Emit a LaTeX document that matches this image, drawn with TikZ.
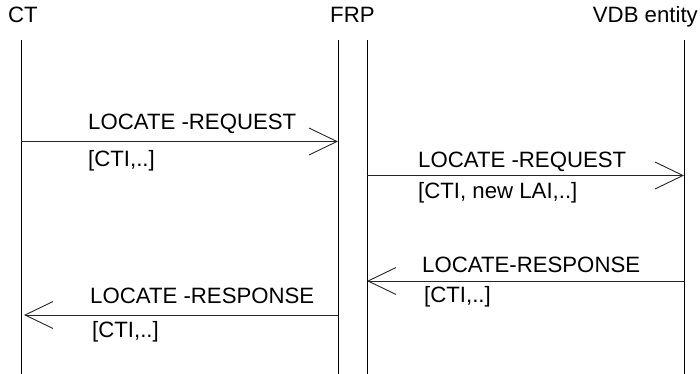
\documentclass[tikz,border=0pt]{standalone}
\usepackage{fontspec}
\setmainfont{Liberation Sans}
\usetikzlibrary{arrows.meta}
\tikzset{
  lifeline/.style={line width=1pt, black},
  msg/.style={line width=0.9pt, black!85, -{Straight Barb[length=28pt,width=27pt,line width=0.9pt]}},
  lbl/.style={anchor=base west, inner sep=0pt, font=\fontsize{22.2}{26}\selectfont},
  head/.style={lbl}
}
\begin{document}
\begin{tikzpicture}[x=1pt,y=-1pt]
\useasboundingbox (0,0) rectangle (700,374);

% entity names
\node[head] (ct)  at (8,23)   {CT};
\node[head] (frp) at (330,23) {FRP};
\node[head, anchor=base east] (vdb) at (698,23) {VDB entity};

% lifelines
\coordinate (ctT)  at (21,40);   \coordinate (ctB)  at (21,374);
\coordinate (frlT) at (338,40);  \coordinate (frlB) at (338,374);
\coordinate (frrT) at (367,40);  \coordinate (frrB) at (367,374);
\coordinate (vdT)  at (684,40);  \coordinate (vdB)  at (684,374);
\draw[lifeline] (ctT) -- (ctB);
\draw[lifeline] (frlT) -- (frlB);
\draw[lifeline] (frrT) -- (frrB);
\draw[lifeline] (vdT) -- (vdB);

% message end points
\coordinate (m1a) at (21,141.5);  \coordinate (m1b) at (338,141.5);
\coordinate (m2a) at (367,175.5); \coordinate (m2b) at (684,175.5);
\coordinate (m3a) at (684,281);   \coordinate (m3b) at (367,281);
\coordinate (m4a) at (338,315);   \coordinate (m4b) at (24,315);

% messages
\draw[msg] (m1a) -- (m1b);
\node[lbl] (l1) at (88,130) {LOCATE -REQUEST};
\node[lbl] (p1) at (88,166) {[CTI,..]};

\draw[msg] (m2a) -- (m2b);
\node[lbl] (l2) at (418,167) {LOCATE -REQUEST};
\node[lbl] (p2) at (418,198) {[CTI, new LAI,..]};

\draw[msg] (m3a) -- (m3b);
\node[lbl] (l3) at (422,272) {LOCATE-RESPONSE};
\node[lbl] (p3) at (424,302) {[CTI,..]};

\draw[msg] (m4a) -- (m4b);
\node[lbl] (l4) at (90,303) {LOCATE -RESPONSE};
\node[lbl] (p4) at (92,337) {[CTI,..]};
\end{tikzpicture}
\end{document}
